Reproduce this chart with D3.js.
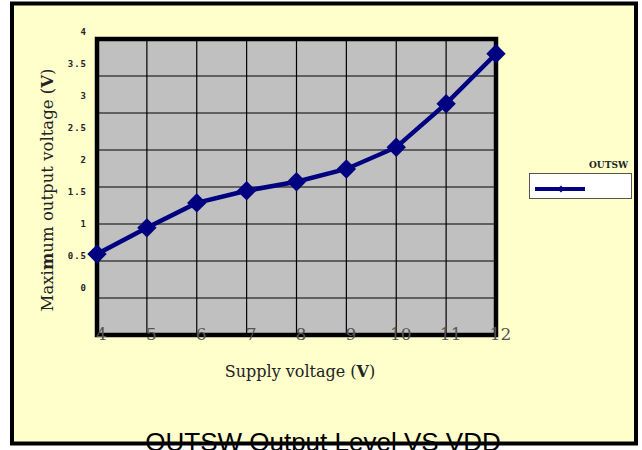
<!DOCTYPE html>
<html>
<head>
<meta charset="utf-8">
<script src="https://cdn.jsdelivr.net/npm/d3@7"></script>
<style>
	html, body { margin: 0; padding: 0; background: #fff; }
	svg { display: block; }
</style>
</head>
<body>
<div id="chartDiv"></div>
<script>
;(function() {

	// supply voltage (V)
	var supplyVoltage = [4, 5, 6, 7, 8, 9, 10, 11, 12];
	// maximum output voltage (V)
	var outputVoltage = [0.53, 0.94, 1.33, 1.52, 1.66, 1.86, 2.2, 2.88, 3.66];
	var yTickValues = [0, 0.5, 1, 1.5, 2, 2.5, 3, 3.5, 4];
	var xTickValues = [4, 5, 6, 7, 8, 9, 10, 11, 12];
	var seriesName = "OUTSW";
	var chartTitle = "OUTSW Output Level VS VDD";

	var width = 642;
	var height = 450;
	var plot = { left: 97, right: 496, top: 39, bottom: 335 };
	var lineColor = "#000080";

	var chart = d3.select("#chartDiv").append("svg")
		.attr("width", width)
		.attr("height", height);

	// page background
	chart.append("rect")
		.attr("x", 12).attr("y", 3.5)
		.attr("width", 624).attr("height", 440)
		.style("fill", "#ffffcc");

	var xScale = d3.scaleLinear()
		.domain([4, 12])
		.range([plot.left, plot.right]);

	// value scale (tick labels and points)
	var yScale = d3.scaleLinear()
		.domain([0, 4])
		.range([288, 32]);

	// grid rows of the plot area
	var gridScale = d3.scaleLinear()
		.domain([0, 8])
		.range([plot.bottom, plot.top]);

	chart.append("rect")
		.attr("x", plot.left).attr("y", plot.top)
		.attr("width", plot.right - plot.left)
		.attr("height", plot.bottom - plot.top)
		.style("fill", "#c0c0c0");

	chart.append("g").selectAll("line.h")
		.data(d3.range(1, 8))
		.enter().append("line")
		.attr("x1", plot.left).attr("x2", plot.right)
		.attr("y1", function(d) { return gridScale(d); })
		.attr("y2", function(d) { return gridScale(d); })
		.style("stroke", "#000").style("stroke-width", 1.2);

	chart.append("g").selectAll("line.v")
		.data(xTickValues.slice(1, -1))
		.enter().append("line")
		.attr("x1", function(d) { return xScale(d); })
		.attr("x2", function(d) { return xScale(d); })
		.attr("y1", plot.top).attr("y2", plot.bottom)
		.style("stroke", "#000").style("stroke-width", 1.2);

	chart.append("rect")
		.attr("x", plot.left).attr("y", plot.top)
		.attr("width", plot.right - plot.left)
		.attr("height", plot.bottom - plot.top)
		.style("fill", "none")
		.style("stroke", "#000").style("stroke-width", 4.5);

	// y axis tick labels
	var yAxis = d3.axisLeft(yScale)
		.tickValues(yTickValues)
		.tickSize(0)
		.tickPadding(0)
		.tickFormat(function(d) { return d; });

	var yAxisG = chart.append("g")
		.attr("transform", "translate(87,0)")
		.call(yAxis);
	yAxisG.select(".domain").remove();
	yAxisG.selectAll("text")
		.style("font-family", "'DejaVu Sans Mono', monospace")
		.style("font-weight", "bold")
		.style("font-size", "9px")
		.style("letter-spacing", "1px")
		.style("fill", "#222");

	// x axis tick labels
	var xAxis = d3.axisBottom(xScale)
		.tickValues(xTickValues)
		.tickSize(0)
		.tickPadding(0)
		.tickFormat(function(d) { return d; });

	var xAxisG = chart.append("g")
		.attr("transform", "translate(4,328)")
		.call(xAxis);
	xAxisG.select(".domain").remove();
	xAxisG.selectAll("text")
		.style("font-family", "'DejaVu Serif', serif")
		.style("font-size", "17px")
		.style("fill", "#555");

	// axis headers
	var xHead = chart.append("text")
		.attr("x", 300).attr("y", 377)
		.attr("text-anchor", "middle")
		.style("font-family", "'DejaVu Serif', serif")
		.style("font-size", "16px")
		.style("fill", "#222");
	xHead.append("tspan").text("Supply voltage (");
	xHead.append("tspan").style("font-weight", "bold").text("V");
	xHead.append("tspan").text(")");

	var yHead = chart.append("text")
		.attr("text-anchor", "middle")
		.attr("transform", "translate(53,190) rotate(-90)")
		.style("font-family", "'DejaVu Serif', serif")
		.style("font-size", "16.5px")
		.style("fill", "#222");
	yHead.append("tspan").text("Maxi");
	yHead.append("tspan").style("font-weight", "bold").text("m");
	yHead.append("tspan").text("um output voltage (");
	yHead.append("tspan").style("font-weight", "bold").text("V");
	yHead.append("tspan").text(")");

	// series
	var data = supplyVoltage.map(function(v, i) { return { xVal: v, yVal: outputVoltage[i] }; });

	var line = d3.line()
		.x(function(d) { return xScale(d.xVal); })
		.y(function(d) { return yScale(d.yVal); });

	chart.append("path")
		.datum(data)
		.attr("d", line)
		.style("fill", "none")
		.style("stroke", lineColor)
		.style("stroke-width", 4.5);

	var diamond = d3.symbol().type(d3.symbolDiamond2).size(240);

	chart.selectAll(".dot")
		.data(data)
		.enter().append("path")
		.attr("class", "dot")
		.attr("d", diamond)
		.attr("transform", function(d) { return "translate(" + xScale(d.xVal) + "," + yScale(d.yVal) + ")"; })
		.style("fill", lineColor);

	// legend
	chart.append("text")
		.attr("x", 628).attr("y", 168)
		.attr("text-anchor", "end")
		.style("font-family", "'DejaVu Serif', serif")
		.style("font-weight", "bold")
		.style("font-size", "9px")
		.style("fill", "#222")
		.text(seriesName);

	chart.append("rect")
		.attr("x", 529.5).attr("y", 173.5)
		.attr("width", 102).attr("height", 25)
		.style("fill", "#fff")
		.style("stroke", "#555").style("stroke-width", 1);

	chart.append("line")
		.attr("x1", 535).attr("x2", 585)
		.attr("y1", 189).attr("y2", 189)
		.style("stroke", lineColor).style("stroke-width", 4);

	chart.append("path")
		.attr("d", d3.symbol().type(d3.symbolDiamond2).size(30))
		.attr("transform", "translate(561,189)")
		.style("fill", lineColor);

	// title, cut by the frame
	chart.append("text")
		.attr("x", 323).attr("y", 451)
		.attr("text-anchor", "middle")
		.style("font-family", "'Liberation Sans', Arial, sans-serif")
		.style("font-size", "26px")
		.style("fill", "#000")
		.text(chartTitle);

	chart.append("rect")
		.attr("x", 12).attr("y", 3.5)
		.attr("width", 624).attr("height", 440)
		.style("fill", "none")
		.style("stroke", "#000").style("stroke-width", 4);

})();
</script>
</body>
</html>
